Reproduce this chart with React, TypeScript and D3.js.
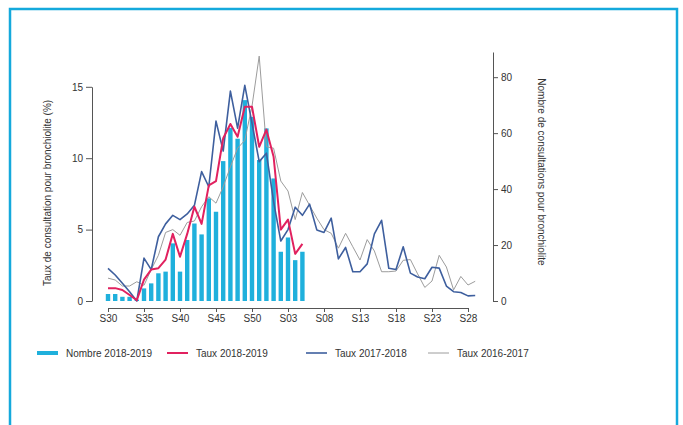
import * as d3 from "d3";
import { useEffect, useRef } from "react";

// semaines S30 -> S29
const weeks = [
  "S30", "S31", "S32", "S33", "S34", "S35", "S36", "S37", "S38", "S39", "S40",
  "S41", "S42", "S43", "S44", "S45", "S46", "S47", "S48", "S49", "S50", "S51",
  "S52", "S01", "S02", "S03", "S04", "S05", "S06", "S07", "S08", "S09", "S10",
  "S11", "S12", "S13", "S14", "S15", "S16", "S17", "S18", "S19", "S20", "S21",
  "S22", "S23", "S24", "S25", "S26", "S27", "S28", "S29",
];
const tickWeeks = ["S30", "S35", "S40", "S45", "S50", "S03", "S08", "S13", "S18", "S23", "S28"];

const nombre2018 = [
  2.5, 2.5, 1.5, 1.5, 0.5, 4.5, 6.3, 9.9, 10.5, 20.6, 10.5, 21.8, 27.7, 23.8,
  36.7, 31.9, 50, 61.9, 58, 71.8, 65.8, 50.4, 61.7, 43.8, 17.6, 22.7, 14.6, 17.6,
];
const taux2018 = [
  0.9, 0.9, 0.77, 0.42, 0.05, 1.5, 2.2, 2.3, 2.9, 4.7, 3.1, 4.7, 6.6, 5.4, 8.1,
  8.4, 11.4, 12.4, 11.5, 13.6, 13.6, 10.8, 12.0, 10.1, 5.0, 5.7, 3.3, 4.0,
];
const taux2017 = [
  2.29, 1.82, 1.24, 0.65, 0.0, 3.0, 2.2, 4.5, 5.4, 6.0, 5.7, 6.1, 6.7, 9.06, 8.0,
  12.6, 10.5, 14.7, 12.1, 15.1, 12.45, 9.76, 10.35, 6.96, 4.2, 5.0, 6.57, 6.0,
  6.78, 4.98, 4.8, 5.8, 2.95, 3.75, 2.05, 2.05, 2.6, 4.7, 5.65, 2.29, 2.2, 3.8,
  1.95, 1.68, 1.56, 2.36, 2.3, 1.05, 0.65, 0.6, 0.36, 0.38,
];
const taux2016 = [
  1.6, 1.47, 1.05, 1.05, 1.35, 1.1, 2.2, 3.2, 4.8, 5.0, 4.6, 5.5, 5.6, 6.6, 7.3,
  6.85, 8.0, 9.4, 10.7, 11.25, 13.65, 17.15, 10.8, 10.7, 8.4, 7.7, 5.7, 7.6, 6.7,
  5.8, 5.0, 4.74, 3.7, 4.74, 3.8, 2.87, 4.3, 3.5, 2.05, 2.05, 2.1, 2.85, 2.9, 1.9,
  0.95, 1.4, 3.2, 2.38, 0.78, 1.72, 1.12, 1.38,
];

const legendItems = [
  { label: "Nombre 2018-2019", color: "#1fb0dc", width: 4 },
  { label: "Taux 2018-2019", color: "#e1215f", width: 2 },
  { label: "Taux 2017-2018", color: "#3e5f9e", width: 1.6 },
  { label: "Taux 2016-2017", color: "#9c9c9c", width: 1 },
];

export default function App() {
  const svgRef = useRef(null);
  const width = 683;
  const height = 425;

  const x = d3.scaleLinear().domain([0, 50]).range([108, 468]);
  const yLeft = d3.scaleLinear().domain([0, 15]).range([301, 86.8]);
  const yRight = d3.scaleLinear().domain([0, 89]).range([301, 52]);

  useEffect(() => {
    const svg = d3.select(svgRef.current).attr("width", width).attr("height", height);
    svg.selectAll("*").remove();
    const font = "'Liberation Sans', Arial, sans-serif";

    // cadre
    svg
      .append("rect")
      .attr("x", 10)
      .attr("y", 9)
      .attr("width", 667)
      .attr("height", 440)
      .attr("fill", "none")
      .attr("stroke", "#14a9dc")
      .attr("stroke-width", 2.5);

    // barres
    svg
      .append("g")
      .selectAll("rect")
      .data(nombre2018)
      .join("rect")
      .attr("x", (_, i) => x(i) - 2.2)
      .attr("width", 4.4)
      .attr("y", (d) => yRight(d))
      .attr("height", (d) => yRight(0) - yRight(d))
      .attr("fill", legendItems[0].color);

    const line = (scale: d3.ScaleLinear<number, number>) =>
      d3
        .line<number>()
        .x((_, i) => x(i))
        .y((d) => scale(d));

    const series = [
      { data: taux2016, item: legendItems[3] },
      { data: taux2017, item: legendItems[2] },
      { data: taux2018, item: legendItems[1] },
    ];
    series.forEach((s) => {
      svg
        .append("path")
        .attr("d", line(yLeft)(s.data))
        .attr("fill", "none")
        .attr("stroke", s.item.color)
        .attr("stroke-width", s.item.width)
        .attr("stroke-linejoin", "round");
    });

    const styleAxis = (g: any) => {
      g.select(".domain").attr("stroke", "#555");
      g.selectAll(".tick line").attr("stroke", "#555");
      g.selectAll(".tick text")
        .attr("fill", "#333")
        .style("font-family", font)
        .style("font-size", "10px");
    };

    svg
      .append("g")
      .attr("transform", "translate(92,0)")
      .call(d3.axisLeft(yLeft).tickValues([0, 5, 10, 15]).tickSize(6).tickSizeOuter(0).tickPadding(3))
      .call(styleAxis);

    svg
      .append("g")
      .attr("transform", "translate(493,0)")
      .call(
        d3.axisRight(yRight).tickValues([0, 20, 40, 60, 80]).tickSize(5).tickSizeOuter(0).tickPadding(3)
      )
      .call(styleAxis);

    svg
      .append("g")
      .attr("transform", "translate(0,308)")
      .call(
        d3
          .axisBottom(x)
          .tickValues(tickWeeks.map((w) => weeks.indexOf(w)))
          .tickFormat((d) => weeks[d as number])
          .tickSize(4)
          .tickSizeOuter(0)
          .tickPadding(3)
      )
      .call(styleAxis);

    // titres des axes
    svg
      .append("text")
      .attr("transform", "translate(51,193) rotate(-90)")
      .attr("text-anchor", "middle")
      .attr("fill", "#333")
      .style("font-family", font)
      .style("font-size", "10px")
      .text("Taux de consultation pour bronchiolite (%)");

    svg
      .append("text")
      .attr("transform", "translate(538,172) rotate(90)")
      .attr("text-anchor", "middle")
      .attr("fill", "#333")
      .style("font-family", font)
      .style("font-size", "10px")
      .text("Nombre de consultations pour bronchiolite");

    // légende
    const legendX = [37, 167, 306, 428];
    const legend = svg.append("g").attr("transform", "translate(0,353)");
    legendItems.forEach((item, i) => {
      const g = legend.append("g").attr("transform", `translate(${legendX[i]},0)`);
      g.append("line")
        .attr("x1", 0)
        .attr("x2", 21)
        .attr("stroke", item.color)
        .attr("stroke-width", item.width);
      g.append("text")
        .attr("x", 29)
        .attr("dy", "0.35em")
        .attr("fill", "#333")
        .style("font-family", font)
        .style("font-size", "10px")
        .text(item.label);
    });
  }, []);

  return (
    <div style={{ position: "fixed", left: 0, top: 0, background: "#fff" }}>
      <svg ref={svgRef}></svg>
    </div>
  );
}
